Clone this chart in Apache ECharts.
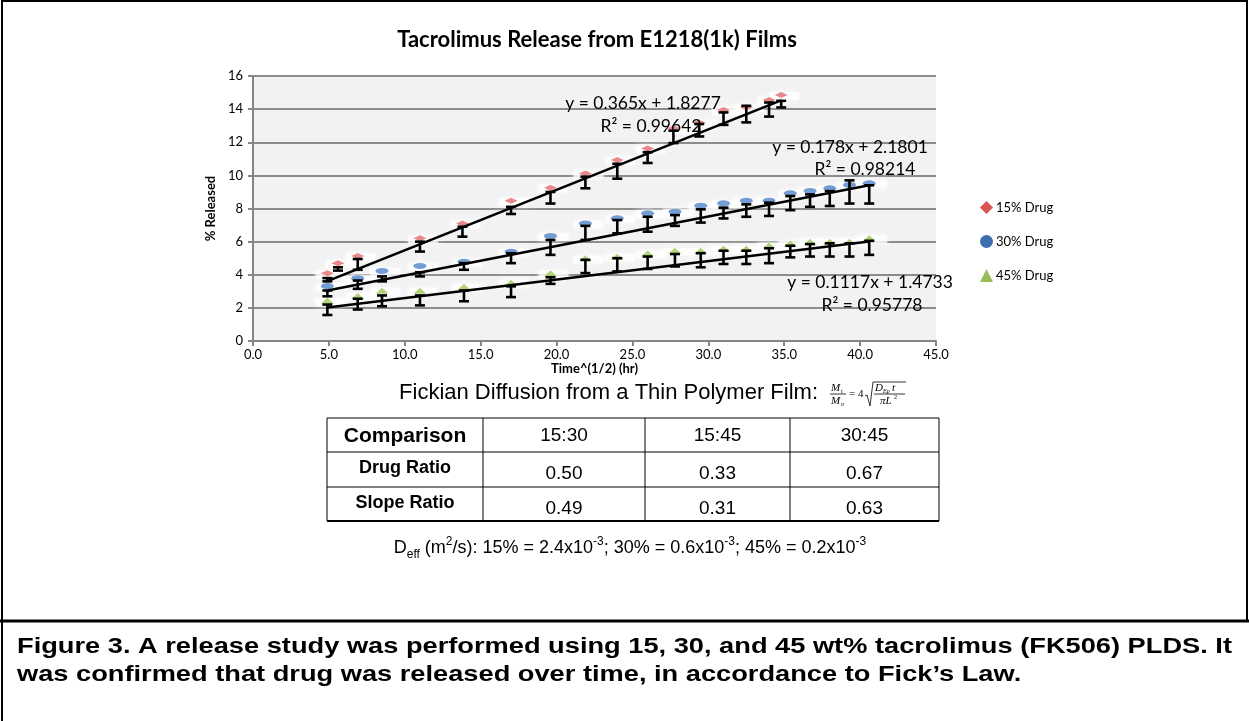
<!DOCTYPE html>
<html>
<head>
<meta charset="utf-8">
<script src="https://cdn.jsdelivr.net/npm/echarts@6/dist/echarts.min.js"></script>
<style>
  html, body { margin: 0; padding: 0; background: #fff; }
  #chart { width: 1249px; height: 721px; }
</style>
</head>
<body>
<div id="chart"></div>
<script>
// 15% drug: time^(1/2), marker value, error bar low/high
const x15 = [4.9, 5.6, 6.9, 11.0, 13.8, 17.0, 19.6, 21.9, 24.0, 26.0, 27.7, 29.4, 31.0, 32.5, 34.0, 34.8];
const y15 = [4.09, 4.69, 5.13, 6.2, 7.1, 8.47, 9.26, 10.12, 10.93, 11.63, 12.84, 13.18, 13.95, 14.11, 14.55, 14.86];
const lo15 = [3.6, 4.25, 4.3, 5.4, 6.3, 7.67, 8.3, 9.22, 9.8, 10.75, 11.95, 12.35, 13.05, 13.2, 13.55, 14.1];
const hi15 = [3.8, 4.45, 4.95, 6.0, 6.9, 8.1, 9.0, 9.92, 10.7, 11.4, 12.7, 13.1, 13.8, 14.2, 14.4, 14.5];

// 30% and 45% drug share the same time points
const x30 = [4.9, 6.9, 8.5, 11.0, 13.9, 17.0, 19.6, 21.9, 24.0, 26.0, 27.8, 29.5, 31.0, 32.5, 34.0, 35.4, 36.7, 38.0, 39.3, 40.6];
const y30 = [3.32, 3.79, 4.23, 4.53, 4.79, 5.39, 6.34, 7.1, 7.41, 7.71, 7.81, 8.17, 8.31, 8.47, 8.47, 8.92, 9.06, 9.22, 9.42, 9.52];
const lo30 = [2.7, 3.15, 3.6, 3.9, 4.3, 4.7, 5.2, 6.1, 6.5, 6.6, 6.95, 7.15, 7.4, 7.5, 7.55, 7.9, 8.1, 8.15, 8.3, 8.3];
const hi30 = [3.05, 3.65, 3.9, 4.15, 4.7, 5.3, 6.1, 6.95, 7.3, 7.5, 7.6, 7.95, 8.05, 8.25, 8.35, 8.75, 8.85, 9.05, 9.7, 9.4];

const x45 = x30;
const y45 = [2.43, 2.72, 3.04, 3.04, 3.28, 3.52, 4.09, 4.99, 5.09, 5.29, 5.45, 5.45, 5.57, 5.57, 5.76, 5.88, 6.0, 6.0, 6.0, 6.2];
const lo45 = [1.57, 1.9, 2.1, 2.15, 2.4, 2.65, 3.45, 4.1, 4.2, 4.35, 4.5, 4.45, 4.65, 4.65, 4.7, 5.05, 5.1, 5.1, 5.1, 5.2];
const hi45 = [2.2, 2.55, 2.75, 2.75, 3.05, 3.3, 3.85, 4.9, 5.0, 5.1, 5.25, 5.3, 5.45, 5.45, 5.6, 5.75, 5.85, 5.9, 5.9, 6.05];

// linear fits as printed on the chart
const fitSlope = [0.365, 0.178, 0.1117];
const fitIntercept = [1.8277, 2.1801, 1.4733];
const fitR2 = ['0.99642', '0.98214', '0.95778'];
const seriesNames = ['15% Drug', '30% Drug', '45% Drug'];

// comparison table
const tableHeader = ['Comparison', '15:30', '15:45', '30:45'];
const drugRatio = ['0.50', '0.33', '0.67'];
const slopeRatio = ['0.49', '0.31', '0.63'];
const deffValues = ['2.4', '0.6', '0.2'];

const captionLine1 = 'Figure 3. A release study was performed using 15, 30, and 45 wt% tacrolimus (FK506) PLDS. It';
const captionLine2 = 'was confirmed that drug was released over time, in accordance to Fick\u2019s Law.';

const chart = echarts.init(document.getElementById('chart'));

const xs = [x15, x30, x45];
const ys = [y15, y30, y45];
const los = [lo15, lo30, lo45];
const his = [hi15, hi30, hi45];
const markColor = ['#e57373', '#5b8ccc', '#a4cc62'];
const legendColor = ['#d9534f', '#3d6fb0', '#9bbb59'];
const symbols = ['diamond', 'circle', 'triangle'];

function errBar(params, api) {
  const x = api.value(0);
  const top = api.coord([x, api.value(2)]);
  const bot = api.coord([x, api.value(1)]);
  const w = 5;
  const st = { stroke: '#000', lineWidth: 2.6 };
  return {
    type: 'group',
    children: [
      { type: 'line', shape: { x1: top[0], y1: top[1], x2: bot[0], y2: bot[1] }, style: st },
      { type: 'line', shape: { x1: top[0] - w, y1: top[1], x2: top[0] + w, y2: top[1] }, style: st },
      { type: 'line', shape: { x1: bot[0] - w, y1: bot[1], x2: bot[0] + w, y2: bot[1] }, style: st }
    ]
  };
}

let series = [];
for (let k = 0; k < 3; k++) {
  const pts = xs[k].map((v, i) => [v, ys[k][i]]);
  // white halo behind the markers
  series.push({
    type: 'scatter', name: 'halo' + k, data: pts, symbol: 'rect', symbolSize: [30, 8],
    symbolOffset: [3, 1], silent: true, z: 1,
    itemStyle: { color: 'rgba(255,255,255,0.85)', shadowBlur: 6, shadowColor: '#fff' }
  });
  series.push({
    type: 'scatter', name: seriesNames[k], data: pts, symbol: symbols[k], symbolSize: [13, 6], z: 2,
    itemStyle: { color: markColor[k], opacity: 0.85, shadowBlur: 4, shadowColor: '#fff' }
  });
  series.push({
    type: 'custom', name: 'err' + k, renderItem: errBar, z: 3,
    encode: { x: 0, y: [1, 2] },
    data: xs[k].map((v, i) => [v, los[k][i], his[k][i]])
  });
  const x0 = xs[k][0], x1 = xs[k][xs[k].length - 1];
  series.push({
    type: 'line', name: 'fit' + k, z: 4, symbol: 'none', silent: true,
    lineStyle: { color: '#000', width: 2.6 },
    data: [[x0, fitSlope[k] * x0 + fitIntercept[k]], [x1, fitSlope[k] * x1 + fitIntercept[k]]]
  });
}

const calibri = 'Lato, "Open Sans", sans-serif';
const arial = '"Liberation Sans", Arial, sans-serif';

// trendline labels
const eqPos = [[643, 103, 651, 126], [850, 147, 865, 169], [870, 282, 872, 305]];
let graphics = [];
for (let k = 0; k < 3; k++) {
  const p = eqPos[k];
  graphics.push({ type: 'text', x: p[0], y: p[1], z: 10,
    style: { text: 'y = ' + fitSlope[k] + 'x + ' + fitIntercept[k], font: '17.5px ' + calibri, fill: '#000', textAlign: 'center', textVerticalAlign: 'middle' } });
  graphics.push({ type: 'text', x: p[2], y: p[3], z: 10,
    style: { text: 'R\u00b2 = ' + fitR2[k], font: '17.5px ' + calibri, fill: '#000', textAlign: 'center', textVerticalAlign: 'middle' } });
}

// frame lines
graphics.push({ type: 'line', shape: { x1: 1, y1: 1, x2: 1248, y2: 1 }, style: { stroke: '#000', lineWidth: 2 } });
graphics.push({ type: 'line', shape: { x1: 2, y1: 0, x2: 2, y2: 721 }, style: { stroke: '#000', lineWidth: 2 } });
graphics.push({ type: 'line', shape: { x1: 1247, y1: 0, x2: 1247, y2: 621 }, style: { stroke: '#000', lineWidth: 2 } });
graphics.push({ type: 'line', shape: { x1: 0, y1: 621, x2: 1249, y2: 621 }, style: { stroke: '#000', lineWidth: 3 } });

// Fick equation line
graphics.push({ type: 'text', x: 818, y: 393, style: { text: 'Fickian Diffusion from a Thin Polymer Film:', font: '22px ' + arial, fill: '#000', textAlign: 'right', textVerticalAlign: 'middle' } });
const serif = 'italic 11px "Liberation Serif", serif';
const serifSm = 'italic 6px "Liberation Serif", serif';
graphics.push({ type: 'text', x: 831, y: 388, style: { text: 'M', font: serif, fill: '#000', textVerticalAlign: 'middle' } });
graphics.push({ type: 'text', x: 841, y: 391, style: { text: 't', font: serifSm, fill: '#000', textVerticalAlign: 'middle' } });
graphics.push({ type: 'line', shape: { x1: 830, y1: 394, x2: 846, y2: 394 }, style: { stroke: '#000', lineWidth: 0.8 } });
graphics.push({ type: 'text', x: 831, y: 401, style: { text: 'M', font: serif, fill: '#000', textVerticalAlign: 'middle' } });
graphics.push({ type: 'text', x: 841, y: 404, style: { text: 'o', font: serifSm, fill: '#000', textVerticalAlign: 'middle' } });
graphics.push({ type: 'text', x: 849, y: 394, style: { text: '= 4', font: '11px "Liberation Serif", serif', fill: '#000', textVerticalAlign: 'middle' } });
graphics.push({ type: 'polyline', shape: { points: [[865, 396], [867, 395], [870, 406], [873, 382], [906, 382]] }, style: { stroke: '#000', lineWidth: 0.8, fill: null } });
graphics.push({ type: 'text', x: 875, y: 388, style: { text: 'D', font: serif, fill: '#000', textVerticalAlign: 'middle' } });
graphics.push({ type: 'text', x: 883, y: 391, style: { text: 'Ep', font: serifSm, fill: '#000', textVerticalAlign: 'middle' } });
graphics.push({ type: 'text', x: 892, y: 388, style: { text: 't', font: serif, fill: '#000', textVerticalAlign: 'middle' } });
graphics.push({ type: 'line', shape: { x1: 874, y1: 394, x2: 905, y2: 394 }, style: { stroke: '#000', lineWidth: 0.8 } });
graphics.push({ type: 'text', x: 880, y: 401, style: { text: '\u03c0L', font: serif, fill: '#000', textVerticalAlign: 'middle' } });
graphics.push({ type: 'text', x: 894, y: 397, style: { text: '2', font: '6px "Liberation Serif", serif', fill: '#000', textVerticalAlign: 'middle' } });

// comparison table
const colX = [327, 483, 645, 790, 939];
const rowY = [418, 452, 487, 521];
for (let i = 0; i < rowY.length; i++) {
  graphics.push({ type: 'line', shape: { x1: colX[0], y1: rowY[i], x2: colX[4], y2: rowY[i] }, style: { stroke: '#000', lineWidth: i === 3 ? 2 : 1 } });
}
for (let j = 0; j < colX.length; j++) {
  graphics.push({ type: 'line', shape: { x1: colX[j], y1: rowY[0], x2: colX[j], y2: rowY[3] }, style: { stroke: '#000', lineWidth: 1 } });
}
const rowLabels = [tableHeader[0], 'Drug Ratio', 'Slope Ratio'];
const rowVals = [tableHeader.slice(1), drugRatio, slopeRatio];
for (let r = 0; r < 3; r++) {
  graphics.push({ type: 'text', x: (colX[0] + colX[1]) / 2, y: r === 0 ? 436 : rowY[r] + 16,
    style: { text: rowLabels[r], font: (r === 0 ? 'bold 21px ' : 'bold 18px ') + arial, fill: '#000', textAlign: 'center', textVerticalAlign: 'middle' } });
  for (let c = 0; c < 3; c++) {
    graphics.push({ type: 'text', x: (colX[c + 1] + colX[c + 2]) / 2, y: r === 0 ? 436 : rowY[r] + 22,
      style: { text: rowVals[r][c], font: '19px ' + arial, fill: '#000', textAlign: 'center', textVerticalAlign: 'middle' } });
  }
}

// D_eff line
graphics.push({ type: 'text', x: 630, y: 548, style: {
  text: '{n|D}{sub|eff}{n| (m}{sup|2}{n|/s): 15% = ' + deffValues[0] + 'x10}{sup|-3}{n|; 30% = ' + deffValues[1] + 'x10}{sup|-3}{n|; 45% = ' + deffValues[2] + 'x10}{sup|-3}',
  textAlign: 'center', textVerticalAlign: 'middle',
  rich: {
    n: { font: '18px ' + arial, fill: '#000', lineHeight: 28, verticalAlign: 'middle' },
    sup: { font: '12px ' + arial, fill: '#000', lineHeight: 28, verticalAlign: 'top', padding: [2, 0, 0, 0] },
    sub: { font: '12px ' + arial, fill: '#000', lineHeight: 28, verticalAlign: 'bottom', padding: [0, 0, 1, 0] }
  }
} });

// figure caption: wide bold text, first line runs to the right edge
const capFont = 'bold 22px ' + arial;
const ctx = document.createElement('canvas').getContext('2d');
ctx.font = capFont;
const capLeft = 17, capRight = 1232;
const capScale = (capRight - capLeft) / ctx.measureText(captionLine1).width;
graphics.push({ type: 'text', x: capLeft, y: 647, scaleX: capScale, style: { text: captionLine1, font: capFont, fill: '#000', textVerticalAlign: 'middle' } });
graphics.push({ type: 'text', x: capLeft, y: 675, scaleX: capScale, style: { text: captionLine2, font: capFont, fill: '#000', textVerticalAlign: 'middle' } });

const option = {
  animation: false,
  backgroundColor: '#fff',
  title: {
    text: 'Tacrolimus Release from E1218(1k) Films',
    left: 592, top: 24, textAlign: 'center',
    textStyle: { fontFamily: calibri, fontWeight: 'bold', fontSize: 22, color: '#000' }
  },
  legend: {
    orient: 'vertical', left: 975, top: 196, itemGap: 21, itemWidth: 13, itemHeight: 13,
    textStyle: { fontFamily: calibri, fontSize: 13, color: '#000', padding: [0, 0, 0, -2] },
    data: seriesNames.map((n, k) => ({ name: n, icon: symbols[k], itemStyle: { color: legendColor[k], opacity: 1, shadowBlur: 0 } }))
  },
  grid: {
    left: 253, right: 313, top: 76, bottom: 380,
    show: true, backgroundColor: '#f2f2f2', borderWidth: 0
  },
  xAxis: {
    type: 'value', min: 0, max: 45, interval: 5,
    name: 'Time^(1/2) (hr)', nameLocation: 'middle', nameGap: 17,
    nameTextStyle: { fontFamily: calibri, fontWeight: 'bold', fontSize: 13, color: '#000' },
    axisLine: { lineStyle: { color: '#868686', width: 2 } },
    axisTick: { show: true, length: 5, lineStyle: { color: '#868686', width: 2 } },
    axisLabel: { fontFamily: calibri, fontSize: 13, color: '#000', margin: 7, formatter: v => v.toFixed(1) },
    splitLine: { show: false }
  },
  yAxis: {
    type: 'value', min: 0, max: 16, interval: 2,
    name: '% Released', nameLocation: 'middle', nameGap: 36,
    nameTextStyle: { fontFamily: calibri, fontWeight: 'bold', fontSize: 13, color: '#000' },
    axisLine: { show: true, lineStyle: { color: '#868686', width: 2 } },
    axisTick: { show: true, length: 5, lineStyle: { color: '#868686', width: 2 } },
    axisLabel: { fontFamily: calibri, fontSize: 13, color: '#000', margin: 10 },
    splitLine: { lineStyle: { color: '#8c8c8c', width: 2 } }
  },
  series: series,
  graphic: graphics
};
chart.setOption(option);
</script>
</body>
</html>
